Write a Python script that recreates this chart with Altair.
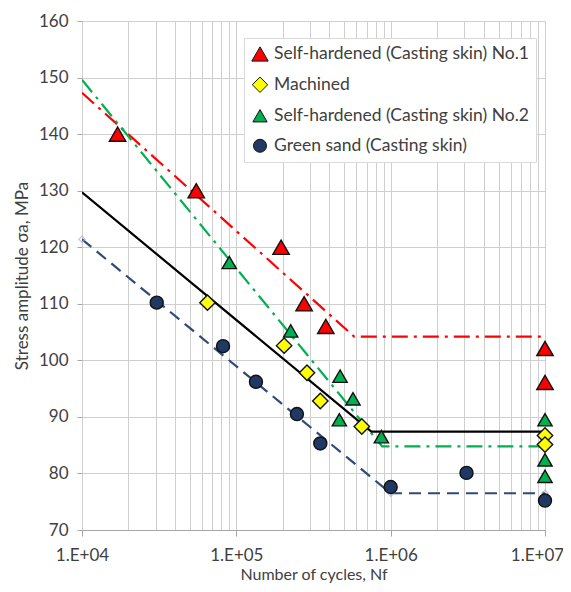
import altair as alt
import pandas as pd

# ---- data ----
series_order = [
    "Self-hardened (Casting skin) No.1",
    "Machined",
    "Self-hardened (Casting skin) No.2",
    "Green sand (Casting skin)",
]
series_colors = ["#FF0000", "#FFFF00", "#00B050", "#1F3864"]
series_shapes = ["triangle-up", "diamond", "triangle-up", "circle"]
series_sizes = [270, 170, 270, 240]

red_x = [1.7e4, 5.5e4, 1.95e5, 2.75e5, 3.8e5, 1e7, 1e7]
red_y = [140.0, 130.0, 120.0, 110.0, 106.0, 102.1, 96.1]

mach_x = [6.5e4, 2.04e5, 2.87e5, 3.5e5, 6.5e5, 1e7, 1e7]
mach_y = [110.2, 102.6, 97.8, 92.8, 88.3, 86.7, 85.1]

green_x = [9.0e4, 2.25e5, 4.7e5, 5.7e5, 4.65e5, 8.7e5, 1e7, 1e7, 1e7]
green_y = [117.3, 105.2, 97.2, 93.2, 89.5, 86.5, 89.5, 82.4, 79.5]

navy_x = [3.05e4, 8.2e4, 1.34e5, 2.47e5, 3.5e5, 1e6, 3.1e6, 1e7]
navy_y = [110.2, 102.5, 96.2, 90.5, 85.3, 77.6, 80.1, 75.2]

# fitted S-N lines (knee + endurance limit)
red_line_x = [1e4, 5.8e5, 1e7]
red_line_y = [147.3, 104.2, 104.2]
green_line_x = [1e4, 8.8e5, 1e7]
green_line_y = [149.6, 84.8, 84.8]
black_line_x = [1e4, 7.5e5, 1e7]
black_line_y = [129.7, 87.4, 87.4]
navy_line_x = [1e4, 1e6, 1e7]
navy_line_y = [121.4, 76.5, 76.5]

x_tick_values = [
    1e4, 2e4, 3e4, 4e4, 5e4, 6e4, 7e4, 8e4, 9e4,
    1e5, 2e5, 3e5, 4e5, 5e5, 6e5, 7e5, 8e5, 9e5,
    1e6, 2e6, 3e6, 4e6, 5e6, 6e6, 7e6, 8e6, 9e6,
    1e7,
]
y_tick_values = [70, 80, 90, 100, 110, 120, 130, 140, 150, 160]

# ---- tables ----
pts = pd.concat([
    pd.DataFrame({"N": red_x, "S": red_y, "series": series_order[0]}),
    pd.DataFrame({"N": mach_x, "S": mach_y, "series": series_order[1]}),
    pd.DataFrame({"N": green_x, "S": green_y, "series": series_order[2]}),
    pd.DataFrame({"N": navy_x, "S": navy_y, "series": series_order[3]}),
], ignore_index=True)

FONT = "Lato"
TXT = "#404040"

x_scale = alt.Scale(type="log", domain=[1e4, 1e7], nice=False)
y_scale = alt.Scale(domain=[70, 160], nice=False, zero=False)

is_decade = "abs(log(datum.value)/LN10 - round(log(datum.value)/LN10)) < 0.001"
is_last = "datum.value >= 9999999"

x_axis = alt.Axis(
    values=x_tick_values,
    labelExpr=f"{is_decade} ? '1.E+0' + round(log(datum.value)/LN10) : ''",
    labelOverlap=False,
    labelFlush=False,
    labelOffset={"condition": {"test": is_last, "value": -8}, "value": 0},
    grid=True,
    gridColor="#cfcfcf",
    gridWidth=1,
    domainColor="#a6a6a6",
    tickColor="#a6a6a6",
    tickSize=6,
    tickOpacity={"condition": {"test": is_decade, "value": 1}, "value": 0},
    labelFont=FONT,
    labelFontSize=17,
    labelColor=TXT,
    labelPadding=11,
    title="Number of cycles, Nf",
    titleFont=FONT,
    titleFontSize=16,
    titleFontWeight="normal",
    titleColor=TXT,
    titlePadding=3,
)

y_axis = alt.Axis(
    values=y_tick_values,
    grid=True,
    gridColor="#cfcfcf",
    gridWidth=1,
    domain=False,
    tickColor="#a6a6a6",
    tickSize=5,
    labelFont=FONT,
    labelFontSize=17,
    labelColor=TXT,
    labelPadding=9,
    title="Stress amplitude σa, MPa",
    titleFont=FONT,
    titleFontSize=17,
    titleFontWeight="normal",
    titleColor=TXT,
    titlePadding=7,
)


def sn_line(xs, ys, color, dash, width=2.0):
    df = pd.DataFrame({"N": xs, "S": ys, "o": list(range(len(xs)))})
    kw = dict(color=color, strokeWidth=width, clip=True)
    if dash:
        kw["strokeDash"] = dash
    return alt.Chart(df).mark_line(**kw).encode(
        x=alt.X("N:Q", scale=x_scale, axis=x_axis),
        y=alt.Y("S:Q", scale=y_scale, axis=y_axis),
        order="o:Q",
    )


red_line = sn_line(red_line_x, red_line_y, "#FF0000", [16, 6, 3, 6], 2.2)
green_line = sn_line(green_line_x, green_line_y, "#00B050", [16, 6, 3, 6], 2.2)
black_line = sn_line(black_line_x, black_line_y, "#000000", None, 2.2)
navy_line = sn_line(navy_line_x, navy_line_y, "#2E4A78", [12, 7], 2.2)

navy_marks = alt.Chart(
    pd.DataFrame({"N": navy_line_x, "S": navy_line_y})
).mark_point(shape="diamond", filled=False, stroke="#b4a7d6", strokeWidth=1.2, size=40).encode(
    x=alt.X("N:Q", scale=x_scale, axis=x_axis),
    y=alt.Y("S:Q", scale=y_scale, axis=y_axis),
)

points = alt.Chart(pts).mark_point(
    filled=True, stroke="#111111", strokeWidth=1.4, opacity=1
).encode(
    x=alt.X("N:Q", scale=x_scale, axis=x_axis),
    y=alt.Y("S:Q", scale=y_scale, axis=y_axis),
    color=alt.Color(
        "series:N",
        scale=alt.Scale(domain=series_order, range=series_colors),
        legend=alt.Legend(title=None),
    ),
    shape=alt.Shape(
        "series:N",
        scale=alt.Scale(domain=series_order, range=series_shapes),
        legend=alt.Legend(title=None),
    ),
    size=alt.Size(
        "series:N",
        scale=alt.Scale(domain=series_order, range=series_sizes),
        legend=None,
    ),
)

chart = alt.layer(
    red_line, green_line, black_line, navy_line, navy_marks, points
).properties(
    width=463,
    height=509,
    autosize=alt.AutoSizeParams(type="none"),
    padding={"left": 74, "top": 13, "right": 18, "bottom": 54},
).configure_view(
    strokeWidth=0
).configure_legend(
    orient="none",
    legendX=162,
    legendY=17,
    padding=7,
    strokeColor="#d9d9d9",
    fillColor="white",
    labelFont=FONT,
    labelFontSize=17.5,
    labelColor=TXT,
    labelLimit=400,
    labelOffset=5,
    rowPadding=11,
    symbolSize=120,
    symbolStrokeWidth=1,
    symbolStrokeColor="#111111",
)

chart.save("out.html", embed_options={"renderer": "svg", "actions": False})
